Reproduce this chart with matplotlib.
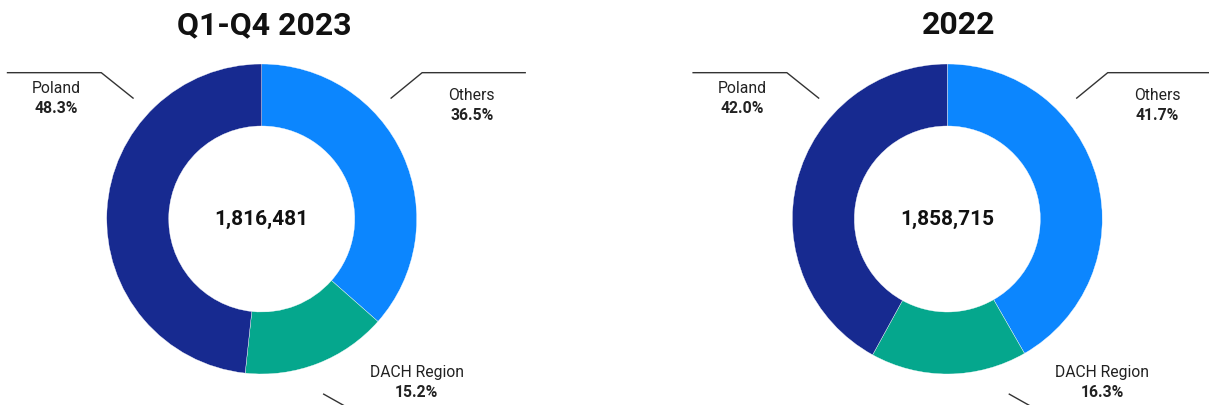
import matplotlib
matplotlib.use("Agg")
import matplotlib.pyplot as plt

# datos
period_titles = ["Q1-Q4 2023", "2022"]
totals = [1816481, 1858715]
categories = ["Others", "DACH Region", "Poland"]
shares_2023 = [36.5, 15.2, 48.3]
shares_2022 = [41.7, 16.3, 42.0]
colors = ["#0C86FE", "#05A78D", "#172A90"]

plt.rcParams["font.family"] = ["Roboto", "DejaVu Sans"]

W, H = 1209, 405
R = 155.0          # radio del donut en px
CY = 219.0         # centro vertical en px (desde arriba)
centers_x = [261.7, 947.3]
title_x = [264, 959]

# posiciones de etiquetas y lineas guia (en unidades de radio)
label_pos = {
    "Others": (1.355, 0.80, 0.67),
    "DACH Region": (1.0, -0.99, -1.12),
    "Poland": (-1.326, 0.839, 0.71),
}
leaders = {
    "Others": [(0.835, 0.78), (1.035, 0.944), (1.70, 0.944)],
    "DACH Region": [(0.40, -1.13), (0.56, -1.22)],
    "Poland": [(-0.83, 0.78), (-1.035, 0.944), (-1.64, 0.944)],
}

fig = plt.figure(figsize=(W / 100, H / 100), dpi=100)

for i, shares in enumerate([shares_2023, shares_2022]):
    cx = centers_x[i]
    ax = fig.add_axes([0, 0, 1, 1])
    ax.patch.set_alpha(0)
    ax.pie(shares, colors=colors, startangle=90, counterclock=False, radius=1,
           wedgeprops=dict(width=0.4, edgecolor="white", linewidth=0.25))
    ax.set_aspect("auto")
    ax.set_xlim(-cx / R, (W - cx) / R)
    ax.set_ylim(-(H - CY) / R, CY / R)
    ax.axis("off")

    ax.text(0, 0, f"{totals[i]:,}", ha="center", va="center",
            fontsize=15, fontweight="bold", color="#111111")

    for cat, val in zip(categories, shares):
        lx, ly1, ly2 = label_pos[cat]
        ax.text(lx, ly1, cat, ha="center", va="center", fontsize=11.3, color="#222222")
        ax.text(lx, ly2, f"{val:.1f}%", ha="center", va="center", fontsize=11.3,
                fontweight="bold", color="#222222")
        pts = leaders[cat]
        ax.plot([p[0] for p in pts], [p[1] for p in pts], color="#333333",
                lw=1.0, clip_on=False)

    fig.text(title_x[i] / W, 1 - 25.5 / H, period_titles[i], ha="center", va="center",
             fontsize=23, fontweight="bold", color="#111111")

fig.savefig("out.png", dpi=100, facecolor="white")
